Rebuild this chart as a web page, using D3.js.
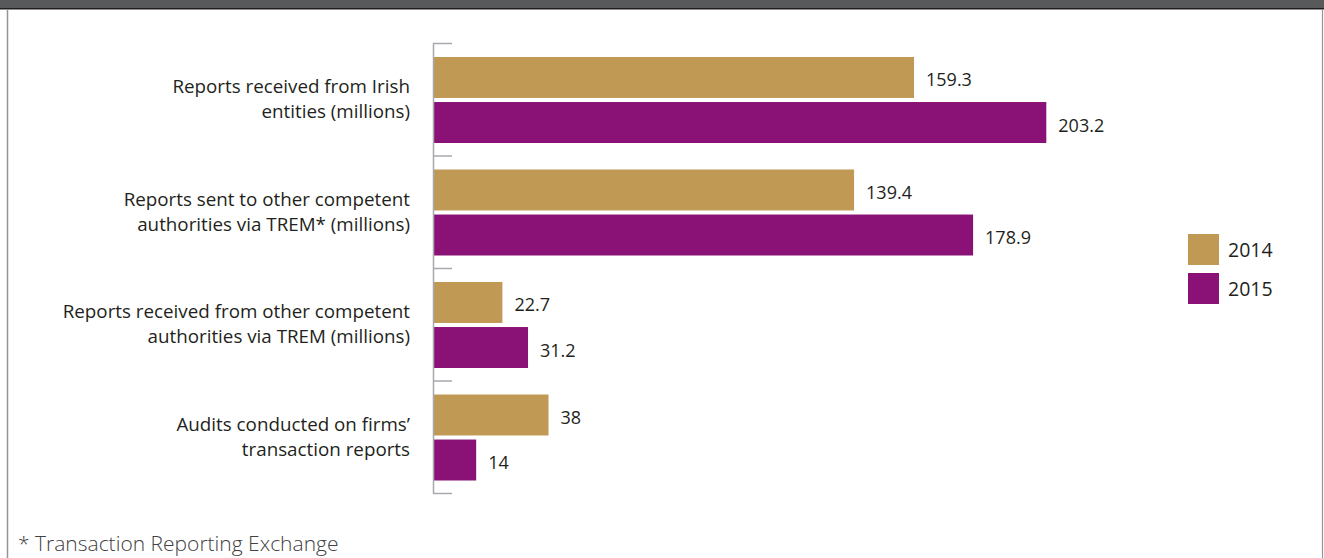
<!DOCTYPE html>
<html>
<head>
<meta charset="utf-8">
<script src="https://cdn.jsdelivr.net/npm/d3@7"></script>
<style>
  html, body { margin: 0; padding: 0; background: #fff; }
  svg { display: block; }
  text { font-family: "Open Sans", "Noto Sans", sans-serif; }
</style>
</head>
<body>
<svg id="chart" width="1324" height="558"></svg>
<script>
// Category labels (two lines each), series and values
const categories = [
  ["Reports received from Irish", "entities (millions)"],
  ["Reports sent to other competent", "authorities via TREM* (millions)"],
  ["Reports received from other competent", "authorities via TREM (millions)"],
  ["Audits conducted on firms\u2019", "transaction reports"]
];
const seriesNames = ["2014", "2015"];
const values2014 = [159.3, 139.4, 22.7, 38];
const values2015 = [203.2, 178.9, 31.2, 14];
const valueLabels2014 = ["159.3", "139.4", "22.7", "38"];
const valueLabels2015 = ["203.2", "178.9", "31.2", "14"];
const footnote = "* Transaction Reporting Exchange";

const colors = { "2014": "#c09a54", "2015": "#8a1276" };
const textColor = "#231f20";

const svg = d3.select("#chart");
const W = 1324, H = 558;

// Panel frame: dark header strip and thin side borders
svg.append("rect").attr("x", 0).attr("y", 0).attr("width", W).attr("height", 8).attr("fill", "#58595b");
svg.append("rect").attr("x", 0).attr("y", 8).attr("width", W).attr("height", 1.5).attr("fill", "#231f20");
svg.append("line").attr("x1", 7.5).attr("x2", 7.5).attr("y1", 9).attr("y2", H)
  .attr("stroke", "#939598").attr("stroke-width", 1.5);
svg.append("line").attr("x1", 1322.5).attr("x2", 1322.5).attr("y1", 9).attr("y2", H)
  .attr("stroke", "#939598").attr("stroke-width", 1.2);

// Scales
const keys = categories.map((d, i) => i);
const y = d3.scaleBand().domain(keys).range([43, 493]).paddingInner(0).paddingOuter(0);
const ySub = d3.scaleBand().domain(seriesNames).range([14, 100]).paddingInner(0.09);
const x = d3.scaleLinear().domain([0, 300]).range([434, 1338]);

const rows = keys.map(i => ({
  i,
  label: categories[i],
  bars: [
    { key: "2014", value: values2014[i], text: valueLabels2014[i] },
    { key: "2015", value: values2015[i], text: valueLabels2015[i] }
  ]
}));

// Bars and value labels
const groups = svg.append("g").selectAll("g").data(rows).join("g")
  .attr("transform", d => `translate(0,${y(d.i)})`);

groups.selectAll("rect").data(d => d.bars).join("rect")
  .attr("x", x(0))
  .attr("y", d => ySub(d.key))
  .attr("width", d => x(d.value) - x(0))
  .attr("height", ySub.bandwidth())
  .attr("fill", d => colors[d.key]);

groups.selectAll("text.val").data(d => d.bars).join("text")
  .attr("class", "val")
  .attr("x", d => x(d.value) + 12)
  .attr("y", d => ySub(d.key) + ySub.bandwidth() / 2)
  .attr("dy", "0.5em")
  .attr("font-size", 18)
  .attr("fill", textColor)
  .text(d => d.text);

// Category labels, right aligned beside the axis
groups.append("text")
  .attr("text-anchor", "end")
  .attr("font-size", 18.8)
  .attr("fill", textColor)
  .selectAll("tspan").data(d => d.label).join("tspan")
  .attr("x", 410)
  .attr("y", (d, k) => y.bandwidth() / 2 + (k === 0 ? -12.5 : 12.5))
  .attr("dy", "0.35em")
  .text(d => d);

// Category axis with tick marks at band boundaries
const bounds = d3.scaleLinear().domain([0, categories.length]).range([43, 493]);
const axis = svg.append("g")
  .attr("transform", `translate(433,0)`)
  .call(d3.axisRight(bounds).tickValues(d3.range(categories.length + 1)).tickSize(19).tickSizeOuter(0).tickFormat(""));
axis.selectAll("path, line").attr("stroke", "#a7a9ac").attr("stroke-width", 1.5);

// Legend
const legend = svg.append("g").selectAll("g").data(seriesNames).join("g")
  .attr("transform", (d, k) => `translate(1188,${234 + k * 39})`);
legend.append("rect").attr("width", 31).attr("height", 31).attr("fill", d => colors[d]);
legend.append("text")
  .attr("x", 40).attr("y", 16).attr("dy", "0.38em")
  .attr("font-size", 19.5).attr("fill", textColor)
  .text(d => d);

// Footnote
svg.append("text")
  .attr("x", 18).attr("y", 551)
  .attr("font-size", 21)
  .attr("font-weight", 300)
  .attr("fill", "#414042")
  .text(footnote);
</script>
</body>
</html>
